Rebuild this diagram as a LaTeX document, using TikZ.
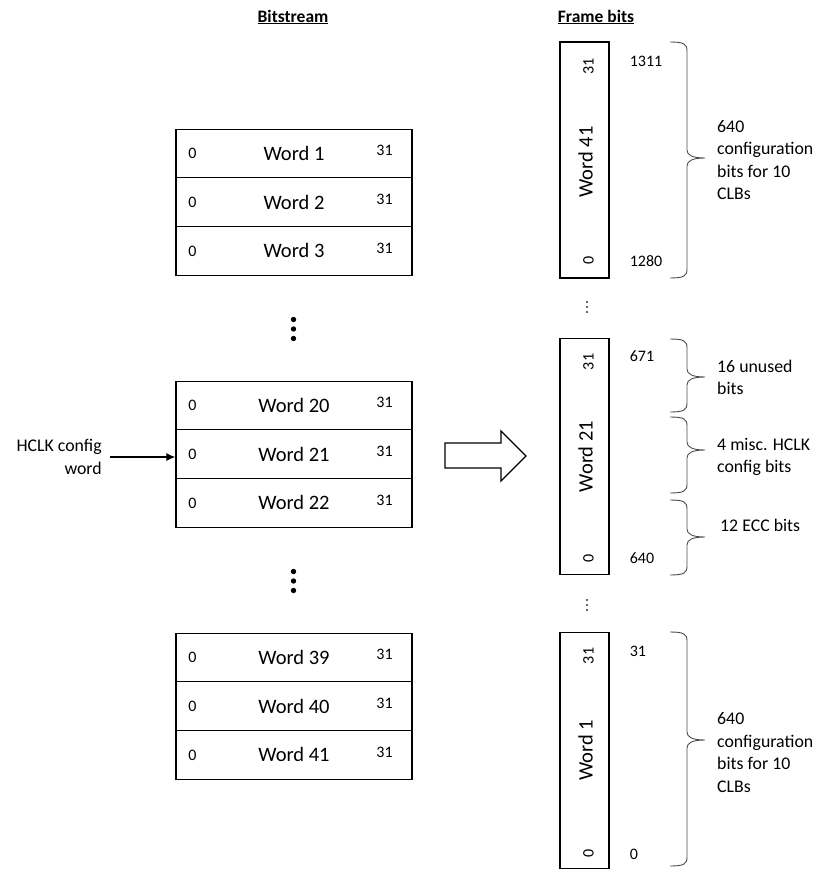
\documentclass[tikz,border=0pt]{standalone}
\usepackage{fontspec}
\setmainfont{Carlito}
\usetikzlibrary{calc,arrows.meta}

\tikzset{
  head/.style={inner sep=0pt, font=\bfseries\fontsize{17.5}{21}\selectfont},
  wordrow/.style={draw, line width=1.2pt, minimum width=236pt, minimum height=48.7pt,
    inner sep=0pt, font=\fontsize{20.5}{24}\selectfont},
  framebox/.style={draw, line width=1.2pt, minimum width=49pt, minimum height=236pt, inner sep=0pt},
  wordtxt/.style={inner sep=0pt, font=\fontsize{20.5}{24}\selectfont},
  bitno/.style={inner sep=0pt, font=\fontsize{16}{19}\selectfont},
  note/.style={inner sep=0pt, anchor=west, align=left, font=\fontsize{17.8}{22.5}\selectfont},
  bracepen/.style={line width=0.9pt, black!70},
}

% right-facing curly brace at x=670: top y, tip y, bottom y
\newcommand{\bitbrace}[3]{%
  \draw[bracepen] (670,#1) .. controls (684,#1) and (687,#1+2) .. (687,#1+9)
    -- (687,#2-8) .. controls (687,#2-3) and (692,#2) .. (705,#2)
    .. controls (692,#2) and (687,#2+3) .. (687,#2+8)
    -- (687,#3-9) .. controls (687,#3-2) and (684,#3) .. (670,#3);}

\begin{document}
\begin{tikzpicture}[x=1pt, y=-1pt, node distance=48.7pt]
  \useasboundingbox (0,0) rectangle (818,869);
  \node[head] (bs) at (293,17) {\underline{Bitstream}};
  \node[head] (fb) at (596,17) {\underline{Frame bits}};

  % bitstream words
  \node[wordrow] (w1) at (294,153.5) {Word 1};
  \node[wordrow, below of=w1] (w2) {Word 2};
  \node[wordrow, below of=w2] (w3) {Word 3};
  \node[wordrow] (w20) at (294,405.5) {Word 20};
  \node[wordrow, below of=w20] (w21) {Word 21};
  \node[wordrow, below of=w21] (w22) {Word 22};
  \node[wordrow] (w39) at (294,657.5) {Word 39};
  \node[wordrow, below of=w39] (w40) {Word 40};
  \node[wordrow, below of=w40] (w41) {Word 41};

  \node[bitno] (w1a) at ($(w1.west)+(17,0)$) {0};
  \node[bitno] (w1b) at ($(w1.east)+(-28,-3)$) {31};
  \node[bitno] (w2a) at ($(w2.west)+(17,0)$) {0};
  \node[bitno] (w2b) at ($(w2.east)+(-28,-3)$) {31};
  \node[bitno] (w3a) at ($(w3.west)+(17,0)$) {0};
  \node[bitno] (w3b) at ($(w3.east)+(-28,-3)$) {31};
  \node[bitno] (w20a) at ($(w20.west)+(17,0)$) {0};
  \node[bitno] (w20b) at ($(w20.east)+(-28,-3)$) {31};
  \node[bitno] (w21a) at ($(w21.west)+(17,0)$) {0};
  \node[bitno] (w21b) at ($(w21.east)+(-28,-3)$) {31};
  \node[bitno] (w22a) at ($(w22.west)+(17,0)$) {0};
  \node[bitno] (w22b) at ($(w22.east)+(-28,-3)$) {31};
  \node[bitno] (w39a) at ($(w39.west)+(17,0)$) {0};
  \node[bitno] (w39b) at ($(w39.east)+(-28,-3)$) {31};
  \node[bitno] (w40a) at ($(w40.west)+(17,0)$) {0};
  \node[bitno] (w40b) at ($(w40.east)+(-28,-3)$) {31};
  \node[bitno] (w41a) at ($(w41.west)+(17,0)$) {0};
  \node[bitno] (w41b) at ($(w41.east)+(-28,-3)$) {31};

  \fill (293.5,319.5) circle (2.7pt) (293.5,329) circle (2.7pt) (293.5,338.5) circle (2.7pt);
  \fill (293.5,571.5) circle (2.7pt) (293.5,581) circle (2.7pt) (293.5,590.5) circle (2.7pt);

  \node[note, anchor=east, align=right] (hclk) at (102,457) {HCLK config\\word};
  \draw[-{Latex[length=9pt,width=8pt]}, line width=1.3pt, shorten <=8pt]
    (hclk.east) -- (hclk.east -| w21.west);

  % big hollow arrow
  \draw[line width=1.3pt] (445,443) -- (501,443) -- (501,431) -- (526,456)
    -- (501,481) -- (501,468) -- (445,468) -- cycle;

  % frame words
  \node[framebox] (f41) at (584.5,160) {};
  \node[wordtxt, rotate=90] (f41w) at ($(f41.center)+(1,2)$) {Word 41};
  \node[bitno, rotate=90] (f41a) at ($(f41.north)+(4,25)$) {31};
  \node[bitno, rotate=90] (f41b) at ($(f41.south)+(4,-18)$) {0};
  \node[bitno, anchor=west] (f41c) at ($(f41.north east)+(20,20)$) {1311};
  \node[bitno, anchor=west] (f41d) at ($(f41.south east)+(20,-18)$) {1280};

  \node[framebox] (f21) at (584.5,456.5) {};
  \node[wordtxt, rotate=90] (f21w) at ($(f21.center)+(1,0)$) {Word 21};
  \node[bitno, rotate=90] (f21a) at ($(f21.north)+(4,24)$) {31};
  \node[bitno, rotate=90] (f21b) at ($(f21.south)+(4,-17)$) {0};
  \node[bitno, anchor=west] (f21c) at ($(f21.north east)+(20,18)$) {671};
  \node[bitno, anchor=west] (f21d) at ($(f21.south east)+(20,-17)$) {640};

  \node[framebox] (f1) at (584.5,750.5) {};
  \node[wordtxt, rotate=90] (f1w) at ($(f1.center)+(1,0)$) {Word 1};
  \node[bitno, rotate=90] (f1a) at ($(f1.north)+(4,24)$) {31};
  \node[bitno, rotate=90] (f1b) at ($(f1.south)+(4,-16)$) {0};
  \node[bitno, anchor=west] (f1c) at ($(f1.north east)+(20,19)$) {31};
  \node[bitno, anchor=west] (f1d) at ($(f1.south east)+(20,-15)$) {0};

  \fill[black!80] (587,302) circle (1.1pt) (587,307) circle (1.1pt) (587,312) circle (1.1pt);
  \fill[black!80] (587,600) circle (1.1pt) (587,605) circle (1.1pt) (587,610) circle (1.1pt);

  % braces and notes
  \bitbrace{42}{158}{278}
  \bitbrace{339}{377}{412}
  \bitbrace{417}{450}{493}
  \bitbrace{500}{537}{575}
  \bitbrace{632}{740}{866}
  \node[note] (n41) at (717,160) {640\\configuration\\bits for 10\\CLBs};
  \node[note] (n21a) at (717,377.5) {16 unused\\bits};
  \node[note] (n21b) at (717,457) {4 misc. HCLK\\config bits};
  \node[note] (n21c) at (720,525) {12 ECC bits};
  \node[note] (n1) at (717,752.5) {640\\configuration\\bits for 10\\CLBs};
\end{tikzpicture}
\end{document}
